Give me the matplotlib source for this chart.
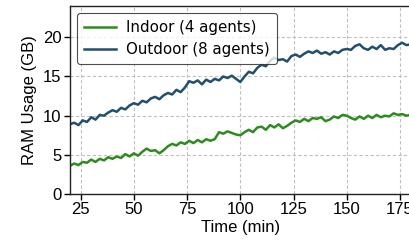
import matplotlib
matplotlib.use("Agg")
import matplotlib.pyplot as plt

time_min = list(range(20, 181, 2))
outdoor = [8.9, 9.1, 8.8, 9.4, 9.2, 9.8, 9.5, 10.1, 10.0, 10.4,
           10.7, 10.5, 11.0, 10.8, 11.3, 11.6, 11.4, 11.9, 11.7, 12.2,
           12.4, 12.1, 12.6, 12.9, 12.7, 13.3, 13.0, 13.6, 14.4, 14.2,
           14.5, 14.0, 14.6, 14.3, 14.7, 14.5, 15.0, 14.8, 15.1, 14.7,
           14.3, 15.0, 15.6, 15.4, 16.1, 16.5, 16.3, 17.0, 17.4, 17.1,
           17.2, 16.9, 17.6, 17.8, 17.5, 17.9, 18.2, 18.0, 18.3, 17.9,
           18.1, 17.8, 18.2, 18.0, 18.4, 18.5, 18.4, 18.9, 19.1, 18.6,
           18.4, 18.8, 18.5, 19.0, 18.4, 18.6, 18.5, 19.0, 19.3, 19.0,
           19.1]
indoor = [3.6, 3.9, 3.7, 4.1, 4.0, 4.4, 4.1, 4.5, 4.3, 4.7,
          4.5, 4.8, 4.6, 5.1, 4.8, 5.2, 4.9, 5.4, 5.8, 5.5,
          5.6, 5.2, 5.6, 6.1, 6.4, 6.2, 6.6, 6.4, 6.8, 6.5,
          6.9, 6.6, 7.0, 6.8, 7.0, 7.9, 7.7, 8.0, 7.8, 7.6,
          7.5, 7.9, 8.2, 7.9, 8.5, 8.6, 8.2, 8.8, 8.5, 8.9,
          8.4, 8.7, 9.1, 9.4, 9.2, 9.6, 9.3, 9.7, 9.6, 9.8,
          9.3, 9.5, 9.9, 9.7, 10.1, 10.0, 9.7, 9.5, 9.9, 9.6,
          10.0, 9.7, 10.1, 9.8, 10.0, 9.9, 10.3, 10.1, 10.2, 10.0,
          10.1]
labels = ["Indoor (4 agents)", "Outdoor (8 agents)"]
xticks = [25, 50, 75, 100, 125, 150, 175]
yticks = [0, 5, 10, 15, 20]

fig = plt.figure(figsize=(4.09, 2.46), dpi=100)
ax = fig.add_axes([0.171, 0.211, 0.833, 0.765])
ax.plot(time_min, indoor, color="#2e8b1f", lw=1.8, label=labels[0])
ax.plot(time_min, outdoor, color="#224f6b", lw=1.8, label=labels[1])
ax.set_xlim(20, 180)
ax.set_ylim(0, 24)
ax.set_xticks(xticks)
ax.set_yticks(yticks)
tf = {"family": "Liberation Sans", "size": 12}
ax.set_xticklabels([str(t) for t in xticks], fontdict=tf)
ax.set_yticklabels([str(t) for t in yticks], fontdict=tf)
ax.set_xlabel("Time (min)", fontdict=tf, labelpad=2)
ax.set_ylabel("RAM Usage (GB)", fontdict=tf, labelpad=4)
ax.grid(True, ls=(0, (3, 2)), color="#c0c0c0", lw=0.8)
ax.tick_params(direction="out", length=4, width=1, pad=2)
for s in ax.spines.values():
    s.set_color("#222222")
    s.set_linewidth(1.0)
leg = ax.legend(loc="upper left", prop={"family": "DejaVu Sans", "size": 10.8},
                frameon=True, fancybox=True, edgecolor="#222222",
                handlelength=2.1, handletextpad=0.7, borderaxespad=0.5,
                labelspacing=0.45, borderpad=0.45)
leg.get_frame().set_linewidth(0.8)
fig.savefig("out.png", dpi=100)
